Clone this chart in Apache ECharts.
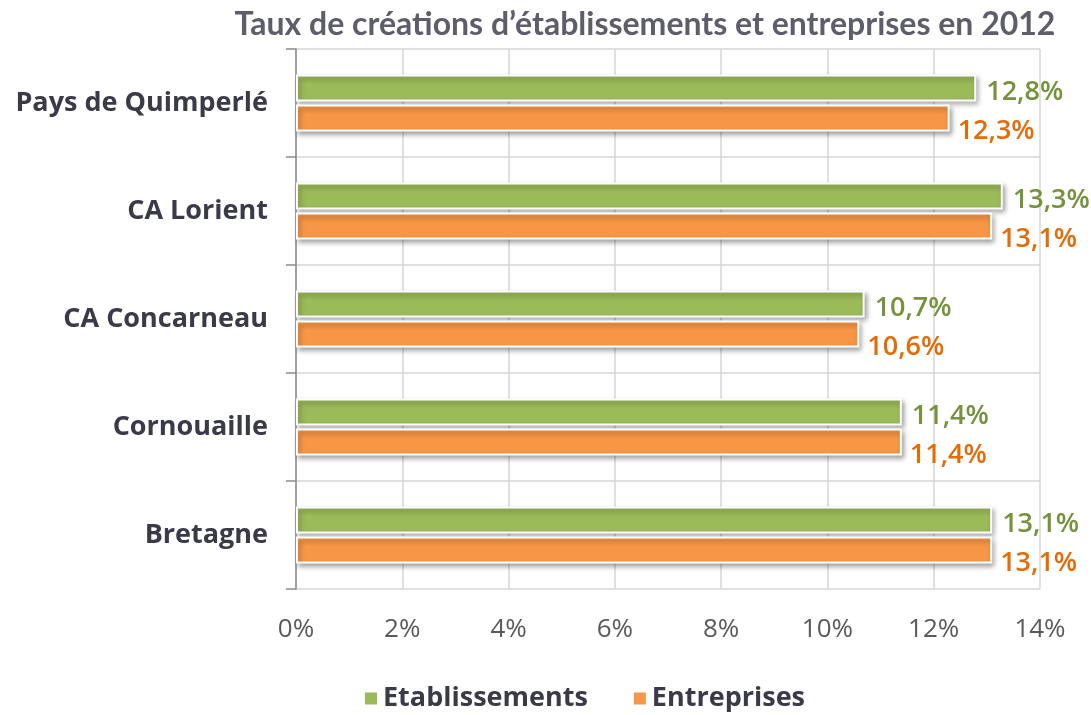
<!DOCTYPE html>
<html>
<head>
<meta charset="utf-8">
<script src="https://cdn.jsdelivr.net/npm/echarts@6/dist/echarts.min.js"></script>
<style>
  html, body { margin: 0; padding: 0; background: #fff; }
  #chart { width: 1091px; height: 715px; }
</style>
</head>
<body>
<div id="chart"></div>
<script>
// données 2012
const categories = ['Pays de Quimperlé', 'CA Lorient', 'CA Concarneau', 'Cornouaille', 'Bretagne'];
const etablissements = [12.8, 13.3, 10.7, 11.4, 13.1];
const entreprises = [12.3, 13.1, 10.6, 11.4, 13.1];
const xTicks = [0, 2, 4, 6, 8, 10, 12, 14];

const chart = echarts.init(document.getElementById('chart'));

const fmt = v => v.toFixed(1).replace('.', ',') + '%';

const barStyle = color => ({
  color: color,
  borderColor: '#fff',
  borderWidth: 2,
  shadowColor: 'rgba(0,0,0,0.35)',
  shadowBlur: 5,
  shadowOffsetX: 2,
  shadowOffsetY: 3
});

const option = {
  backgroundColor: '#fff',
  title: {
    text: 'Taux de créations d’établissements et entreprises en 2012',
    left: 640,
    textAlign: 'center',
    top: 4,
    textStyle: {
      fontFamily: 'Lato',
      fontSize: 32,
      fontWeight: 'bold',
      color: '#5e5e6b'
    }
  },
  legend: {
    bottom: -2,
    left: 358,
    itemWidth: 14,
    itemHeight: 14,
    itemGap: 44,
    icon: 'rect',
    textStyle: {
      fontFamily: 'Open Sans',
      fontSize: 27,
      fontWeight: 'bold',
      color: '#3a3a48'
    },
    data: ['Etablissements', 'Entreprises']
  },
  grid: { left: 296, right: 51, top: 49, bottom: 126 },
  xAxis: {
    type: 'value',
    min: 0,
    max: 14,
    interval: 2,
    axisLine: { show: false },
    axisTick: { show: false },
    splitLine: { lineStyle: { color: '#d6d6d6', width: 1.5 } },
    axisLabel: {
      formatter: v => xTicks.includes(v) ? v + '%' : '',
      fontFamily: 'Open Sans',
      fontSize: 26,
      color: '#5a5a5a',
      margin: 28
    }
  },
  yAxis: {
    type: 'category',
    inverse: true,
    data: categories,
    axisLine: { show: true, lineStyle: { color: '#8c8c8c', width: 1.5 } },
    axisTick: { show: true, length: 10, lineStyle: { color: '#8c8c8c', width: 1.5 } },
    splitLine: { show: true, lineStyle: { color: '#d6d6d6', width: 1.5 } },
    axisLabel: {
      fontFamily: 'Open Sans',
      fontSize: 27,
      fontWeight: 'bold',
      color: '#3a3a48',
      margin: 28
    }
  },
  series: [
    {
      name: 'Etablissements',
      type: 'bar',
      data: etablissements,
      barWidth: 27,
      barGap: '12%',
      itemStyle: barStyle('#9bbb59'),
      label: {
        show: true,
        position: 'right',
        distance: 10,
        offset: [0, 4],
        formatter: p => fmt(p.value),
        fontFamily: 'Open Sans',
        fontSize: 27,
        fontWeight: 600,
        color: '#76923c'
      }
    },
    {
      name: 'Entreprises',
      type: 'bar',
      data: entreprises,
      barWidth: 27,
      itemStyle: barStyle('#f79646'),
      label: {
        show: true,
        position: 'right',
        distance: 8,
        offset: [0, 13],
        formatter: p => fmt(p.value),
        fontFamily: 'Open Sans',
        fontSize: 27,
        fontWeight: 600,
        color: '#e36c0a'
      }
    }
  ]
};

chart.setOption(option);
</script>
</body>
</html>
